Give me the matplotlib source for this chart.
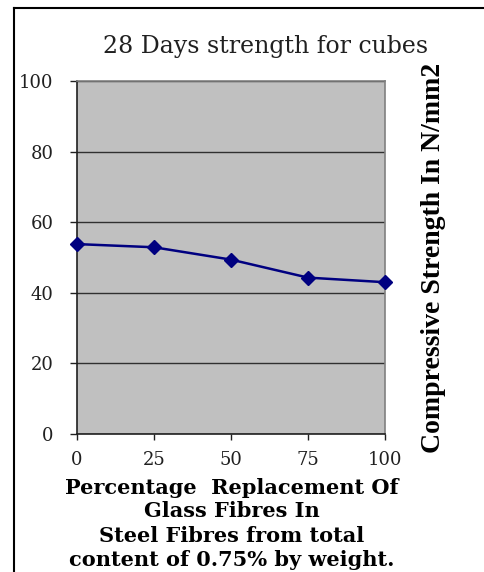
import matplotlib
matplotlib.use("Agg")
import matplotlib.pyplot as plt
from matplotlib.lines import Line2D

# Data
replacement_pct = [0, 25, 50, 75, 100]
strength = [53.8, 52.9, 49.4, 44.3, 43.0]
x_ticks = [0, 25, 50, 75, 100]
y_ticks = [0, 20, 40, 60, 80, 100]

title = "28 Days strength for cubes"
y_label = "Compressive Strength In N/mm2"
x_label_lines = ["Percentage  Replacement Of", "Glass Fibres In",
                 "Steel Fibres from total", "content of 0.75% by weight."]

W, H = 484, 572
fig = plt.figure(figsize=(W / 100, H / 100), dpi=100)
fig.patch.set_facecolor("white")

def fx(px):
    return px / W

def fy(py):
    return 1 - py / H

# outer frame (top and left edges)
fig.add_artist(Line2D([fx(14), 1.0], [fy(8), fy(8)], color="black", lw=1.5))
fig.add_artist(Line2D([fx(14), fx(14)], [fy(8), 0.0], color="black", lw=1.5))

ax = fig.add_axes([fx(77), fy(434), fx(385) - fx(77), fy(81) - fy(434)])
ax.set_facecolor("#c0c0c0")
ax.plot(replacement_pct, strength, color="#000080", lw=1.8, marker="D",
        markersize=7.5, markerfacecolor="#000080", markeredgecolor="#000080",
        clip_on=False, zorder=3)
ax.set_xlim(0, 100)
ax.set_ylim(0, 100)
ax.set_xticks(x_ticks)
ax.set_yticks(y_ticks)
ax.yaxis.grid(True, color="#303030", lw=1.0)
ax.set_axisbelow(True)
for side in ("top", "right"):
    ax.spines[side].set_color("#808080")
    ax.spines[side].set_linewidth(1.2)
for side in ("left", "bottom"):
    ax.spines[side].set_color("#202020")
    ax.spines[side].set_linewidth(1.2)
ax.tick_params(axis="y", direction="out", length=5, width=1.0,
               color="#202020", labelsize=13, pad=12)
ax.tick_params(axis="x", direction="out", length=4.5, width=1.0,
               color="#202020", labelsize=13, pad=8)
for lab in ax.get_xticklabels() + ax.get_yticklabels():
    lab.set_fontfamily("DejaVu Serif")
    lab.set_color("#202020")

fig.text(fx(266), fy(46), title, ha="center", va="center",
         fontsize=17, family="DejaVu Serif", color="#202020")

fig.text(fx(433), fy(258), y_label, rotation=90, ha="center", va="center",
         fontsize=20, family="Liberation Serif", fontweight="bold", color="black")

for txt, ypx in zip(x_label_lines, [488, 511, 536, 560]):
    fig.text(fx(232), fy(ypx), txt, ha="center", va="center", fontsize=15,
             family="DejaVu Serif", fontweight="bold", color="black")

fig.savefig("out.png", dpi=100)
